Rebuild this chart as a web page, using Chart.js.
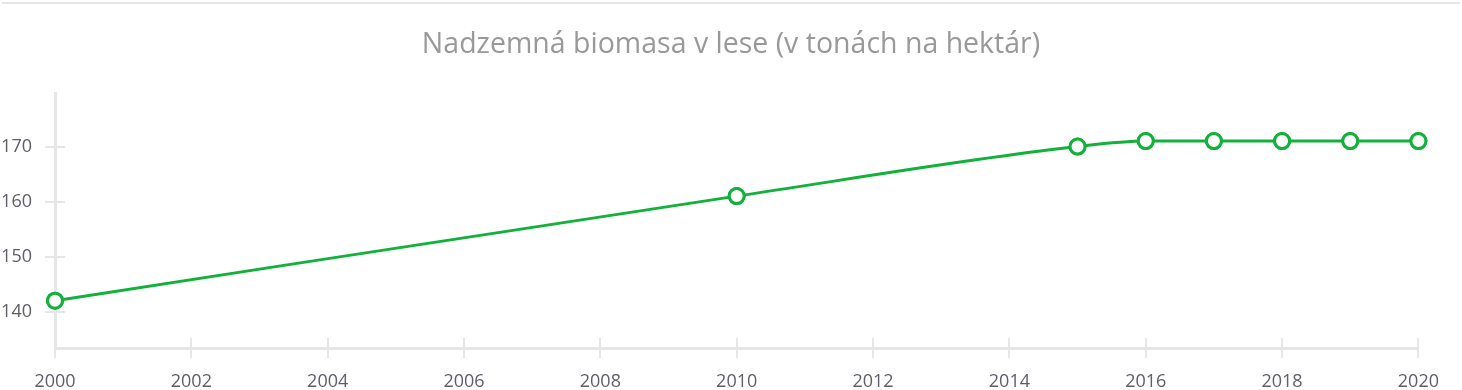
<!DOCTYPE html>
<html>
<head>
<meta charset="utf-8">
<script src="https://cdn.jsdelivr.net/npm/chart.js@4/dist/chart.umd.min.js"></script>
<style>
	body { margin: 0; background: #fff; }
	#wrap { position: relative; width: 1462px; height: 390px; }
	#topline { position: absolute; left: 2px; right: 2px; top: 2px; height: 2px; background: #e6e6e6; }
</style>
</head>
<body>
<div id="wrap">
	<div id="topline"></div>
	<canvas id="biomassChart" width="1462" height="390"></canvas>
</div>
<script>
// values
const years = [2000, 2010, 2015, 2016, 2017, 2018, 2019, 2020];
const biomass = [142, 161, 170, 171, 171, 171, 171, 171];
const yTicks = [140, 150, 160, 170];
const title = 'Nadzemná biomasa v lese (v tonách na hektár)';

const axisGray = '#e6e6e6';
const green = '#12b13b';

// tick marks that cross the axis line on both sides
const crossTicks = {
	id: 'crossTicks',
	afterDraw(chart) {
		const ctx = chart.ctx;
		const x = chart.scales.x;
		const y = chart.scales.y;
		ctx.save();
		ctx.strokeStyle = axisGray;
		ctx.lineWidth = 2;
		ctx.beginPath();
		x.ticks.forEach((t) => {
			const px = Math.round(x.getPixelForValue(t.value));
			ctx.moveTo(px, x.top - 10);
			ctx.lineTo(px, x.top + 10);
		});
		y.ticks.forEach((t) => {
			const py = Math.round(y.getPixelForValue(t.value));
			ctx.moveTo(y.right - 10, py);
			ctx.lineTo(y.right + 10, py);
		});
		ctx.stroke();
		ctx.restore();
		// redraw points on top of tick marks
		chart.getDatasetMeta(0).data.forEach((pt) => pt.draw(ctx, chart.chartArea));
	},
};

new Chart(document.getElementById('biomassChart').getContext('2d'), {
	type: 'line',
	data: {
		datasets: [
			{
				label: title,
				data: years.map((yr, i) => ({ x: yr, y: biomass[i] })),
				borderColor: green,
				borderWidth: 3,
				backgroundColor: '#ffffff',
				pointBackgroundColor: '#ffffff',
				pointBorderColor: green,
				pointBorderWidth: 3,
				pointRadius: 7.5,
				cubicInterpolationMode: 'monotone',
				clip: false,
			},
		],
	},
	options: {
		responsive: false,
		animation: false,
		layout: { padding: 0 },
		plugins: {
			legend: { display: false },
			tooltip: { enabled: false },
			title: {
				display: true,
				text: title,
				color: '#999999',
				font: { family: 'Open Sans', size: 28.5, weight: 'normal' },
				padding: { top: 28, bottom: 31 },
			},
		},
		scales: {
			x: {
				type: 'linear',
				min: 2000,
				max: 2020,
				grid: { display: false, drawTicks: false },
				border: { display: true, color: axisGray, width: 3 },
				ticks: {
					stepSize: 2,
					color: '#5f5f6b',
					font: { family: 'Open Sans', size: 18 },
					padding: 23,
					maxRotation: 0,
					callback: (v) => String(v),
				},
				afterFit: (scale) => { scale.height = 42; },
			},
			y: {
				min: 133.4,
				max: 179.7,
				grid: { display: false, drawTicks: false },
				border: { display: true, color: axisGray, width: 3 },
				ticks: {
					color: '#5f5f6b',
					font: { family: 'Open Sans', size: 18 },
					padding: 23,
				},
				afterBuildTicks: (scale) => {
					scale.ticks = yTicks.map((v) => ({ value: v }));
				},
				afterFit: (scale) => { scale.width = 55; },
			},
			// empty right-hand spacer so the plot ends at the same place as the original
			spacer: {
				position: 'right',
				grid: { display: false },
				border: { display: false },
				ticks: { display: false },
				afterFit: (scale) => { scale.width = 35; },
			},
		},
	},
	plugins: [crossTicks],
});
</script>
</body>
</html>
